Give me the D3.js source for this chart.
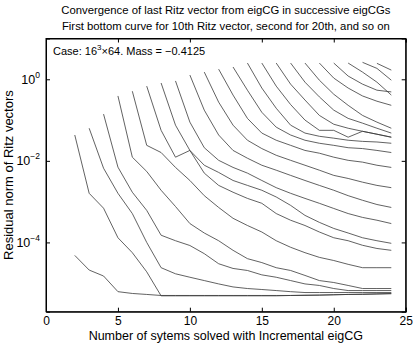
<!DOCTYPE html>
<html><head><meta charset="utf-8">
<script src="https://cdn.jsdelivr.net/npm/d3@7"></script>
<style>body{margin:0;background:#fff}svg{display:block;font-family:"Liberation Sans",Arial,sans-serif}</style>
</head><body><svg id="c" width="415" height="345"></svg>
<script>
const titleLines = ["Convergence of last Ritz vector from eigCG in successive eigCGs",
                    "First bottom curve for 10th Ritz vector, second for 20th, and so on"];
const xLabel = "Number of sytems solved with Incremental eigCG";
const yLabel = "Residual norm of Ritz vectors";
const xTicks = [0, 5, 10, 15, 20, 25];
const yTickExps = [0, -2, -4];
const xDomain = [0, 25];
const yDomain = [2e-6, 10];
// start x (system number) of each curve, bottom curve first
const curveStarts = [2, 2, 3, 4, 5, 6, 7, 8, 9, 10, 11, 12, 13, 14, 15, 16, 17, 18, 19, 20, 21, 22, 23];
// residual values from the start x up to x = 24
const c0 = [4.8e-5, 2.1e-5, 1.5e-5, 6.2e-6, 5.6e-6, 5.3e-6, 5.0e-6, 5.0e-6, 5.0e-6, 5.0e-6, 5.0e-6, 5.0e-6, 5.0e-6, 5.0e-6, 5.0e-6, 5.0e-6, 5.1e-6, 5.1e-6, 5.2e-6, 5.3e-6, 5.3e-6, 5.4e-6, 5.5e-6];
const c1 = [0.043, 1.6e-3, 6.9e-4, 1.3e-4, 5.6e-5, 1.9e-5, 4.9e-6, 4.9e-6, 4.9e-6, 4.9e-6, 4.9e-6, 4.9e-6, 4.9e-6, 4.9e-6, 4.9e-6, 5.0e-6, 5.0e-6, 5.1e-6, 5.2e-6, 5.3e-6, 5.4e-6, 5.5e-6, 5.6e-6];
const c2 = [0.063, 6.6e-3, 1.6e-3, 5.1e-4, 1.0e-4, 2.4e-5, 1.7e-5, 1.4e-5, 1.16e-5, 9.6e-6, 8.1e-6, 7.4e-6, 7.0e-6, 6.6e-6, 6.2e-6, 5.9e-6, 5.9e-6, 5.9e-6, 5.9e-6, 5.9e-6, 5.9e-6, 5.9e-6];
const c3 = [0.14, 7.0e-3, 1.7e-3, 6.1e-4, 1.5e-4, 1.1e-4, 8.4e-5, 5.3e-5, 3.0e-5, 2.3e-5, 2.05e-5, 1.6e-5, 1.4e-5, 1.16e-5, 9.6e-6, 8.8e-6, 7.4e-6, 6.6e-6, 6.6e-6, 6.6e-6, 6.6e-6];
const c4 = [0.39, 0.0123, 5.5e-3, 1.9e-3, 7.6e-4, 2.9e-4, 1.7e-4, 1.1e-4, 6.4e-5, 4.0e-5, 3.2e-5, 2.4e-5, 2.05e-5, 1.55e-5, 1.16e-5, 1.04e-5, 8.8e-6, 7.4e-6, 7.4e-6, 7.4e-6];
const c5 = [0.51, 0.024, 0.016, 6.9e-3, 3.3e-3, 1.4e-3, 7.2e-4, 3.9e-4, 2.6e-4, 1.8e-4, 1.1e-4, 7.6e-5, 5.6e-5, 4.3e-5, 3.6e-5, 2.9e-5, 2.4e-5, 2.4e-5, 2.4e-5];
const c6 = [0.68, 0.056, 0.0123, 0.018, 5.0e-3, 2.5e-3, 1.7e-3, 1.2e-3, 9.1e-4, 5.1e-4, 3.5e-4, 2.6e-4, 1.8e-4, 1.3e-4, 1.1e-4, 8.5e-5, 7.1e-5, 6.4e-5];
const c7 = [0.81, 0.075, 0.018, 7.8e-3, 5.2e-3, 3.3e-3, 2.5e-3, 1.9e-3, 1.3e-3, 8.1e-4, 4.6e-4, 3.1e-4, 2.2e-4, 1.7e-4, 1.3e-4, 1.1e-4, 9.5e-5];
const c8 = [0.91, 0.089, 0.021, 0.0103, 6.9e-3, 5.0e-3, 3.3e-3, 2.2e-3, 1.6e-3, 1.2e-3, 9.1e-4, 6.8e-4, 5.1e-4, 4.1e-4, 3.5e-4, 2.9e-4];
const c9 = [1.27, 0.175, 0.043, 0.018, 0.0116, 7.8e-3, 5.9e-3, 4.4e-3, 3.3e-3, 2.5e-3, 1.9e-3, 1.4e-3, 1.08e-3, 8.5e-4, 7.2e-4];
const c10 = [1.5, 0.275, 0.075, 0.032, 0.020, 0.0137, 0.0103, 7.8e-3, 5.9e-3, 4.4e-3, 3.7e-3, 3.0e-3, 2.5e-3, 2.2e-3];
const c11 = [1.77, 0.41, 0.11, 0.048, 0.032, 0.024, 0.018, 0.0154, 0.0123, 0.0103, 9.3e-3, 7.8e-3, 6.9e-3];
const c12 = [2.0, 0.54, 0.155, 0.067, 0.043, 0.032, 0.027, 0.024, 0.021, 0.020, 0.018, 0.016];
const c13 = [2.5, 0.61, 0.195, 0.075, 0.048, 0.040, 0.036, 0.032, 0.030, 0.029, 0.027];
const c14 = [2.5, 0.68, 0.24, 0.10, 0.056, 0.056, 0.038, 0.053, 0.045, 0.038];
const c15 = [2.5, 0.76, 0.31, 0.13, 0.079, 0.063, 0.053, 0.045, 0.038];
const c16 = [2.5, 0.85, 0.37, 0.175, 0.11, 0.084, 0.063, 0.048];
const c17 = [2.5, 0.95, 0.43, 0.23, 0.13, 0.089, 0.063];
const c18 = [2.5, 1.07, 0.61, 0.39, 0.29, 0.23];
const c19 = [2.5, 1.2, 0.76, 0.54, 0.49];
const c20 = [2.5, 1.5, 0.85, 0.41];
const c21 = [2.6, 1.85, 0.95];
const c22 = [2.46, 1.68];
const curves = [c0,c1,c2,c3,c4,c5,c6,c7,c8,c9,c10,c11,c12,c13,c14,c15,c16,c17,c18,c19,c20,c21,c22];

const svg = d3.select("#c");
const L = 46, R = 405.7, T = 38.5, B = 311.7;
const x = d3.scaleLinear().domain(xDomain).range([L, R]);
const y = d3.scaleLog().domain(yDomain).range([B, T]);

svg.append("rect").attr("width",415).attr("height",345).attr("fill","#fff");

// curves
const line = d3.line().x(d => x(d[0])).y(d => y(d[1]));
curves.forEach((vals, i) => {
  const pts = vals.map((v, j) => [curveStarts[i] + j, v]);
  svg.append("path").attr("d", line(pts)).attr("fill","none")
     .attr("stroke","#3a3a3a").attr("stroke-width",0.8);
});

// axes (ticks inward, box)
const tickLen = 4;
const gB = svg.append("g").attr("transform",`translate(0,${B})`)
  .call(d3.axisBottom(x).tickValues(xTicks).tickSize(-tickLen).tickPadding(5).tickFormat(d3.format("d")));
const gT = svg.append("g").attr("transform",`translate(0,${T})`)
  .call(d3.axisTop(x).tickValues(xTicks).tickSize(-tickLen).tickFormat(""));
const yTicks = yTickExps.map(e => Math.pow(10, e));
const gL = svg.append("g").attr("transform",`translate(${L},0)`)
  .call(d3.axisLeft(y).tickValues(yTicks).tickSize(-tickLen).tickFormat(""));
const gR = svg.append("g").attr("transform",`translate(${R},0)`)
  .call(d3.axisRight(y).tickValues(yTicks).tickSize(-tickLen).tickFormat(""));
[gB,gT,gL,gR].forEach(g => {
  g.selectAll(".domain").attr("stroke","#000").attr("stroke-width",1);
  g.selectAll(".tick line").attr("stroke","#000");
});
gB.selectAll(".tick text").attr("font-size",12).attr("fill","#000")
  .attr("font-family","'Liberation Sans',Arial,sans-serif");
// outer box
svg.append("rect").attr("x",L).attr("y",T).attr("width",R-L).attr("height",B-T)
  .attr("fill","none").attr("stroke","#000").attr("stroke-width",1);

// y tick labels 10^e
yTickExps.forEach(e => {
  const t = svg.append("text").attr("x", L - 6).attr("y", y(Math.pow(10,e)) + 4.5)
    .attr("text-anchor","end").attr("font-size",12.5).attr("fill","#000");
  t.append("tspan").text("10");
  t.append("tspan").attr("dy",-6).attr("font-size",8.5).text(e === 0 ? "0" : "\u2212" + (-e));
});

// titles
titleLines.forEach((s, i) => {
  svg.append("text").attr("x",(L+R)/2).attr("y",13.5 + i*16).attr("text-anchor","middle")
    .attr("font-size",11.3).attr("fill","#000").text(s);
});
// axis labels
svg.append("text").attr("x",(L+R)/2).attr("y",340).attr("text-anchor","middle")
  .attr("font-size",12.5).attr("fill","#000").text(xLabel);
svg.append("text").attr("transform",`translate(13,${(T+B)/2}) rotate(-90)`).attr("text-anchor","middle")
  .attr("font-size",13).attr("fill","#000").text(yLabel);

// annotation
const ann = svg.append("text").attr("x",53).attr("y",54.5).attr("font-size",11).attr("fill","#000");
ann.append("tspan").text("Case: 16");
ann.append("tspan").attr("dy",-5).attr("font-size",8).text("3");
ann.append("tspan").attr("dy",5).text("\u00d764. Mass = \u22120.4125");
</script></body></html>
